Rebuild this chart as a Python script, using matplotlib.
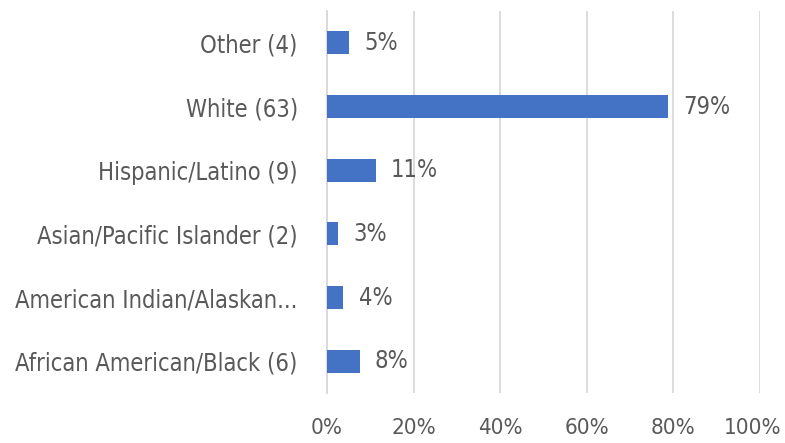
import matplotlib.pyplot as plt
import matplotlib.transforms as mtransforms
from matplotlib import font_manager

# Race / ethnicity breakdown (count in label, share as fraction)
categories = ['African American/Black (6)', 'American Indian/Alaskan...',
              'Asian/Pacific Islander (2)', 'Hispanic/Latino (9)',
              'White (63)', 'Other (4)']
shares = [0.075, 0.0375, 0.025, 0.1125, 0.7875, 0.05]
share_labels = ['8%', '4%', '3%', '11%', '79%', '5%']
xticks = [0, 0.2, 0.4, 0.6, 0.8, 1.0]
xtick_labels = ['0%', '20%', '40%', '60%', '80%', '100%']

names = {f.name for f in font_manager.fontManager.ttflist}
if 'Liberation Sans Narrow' in names:
    plt.rcParams['font.family'] = ['Liberation Sans Narrow', 'DejaVu Sans']
else:
    plt.rcParams['font.family'] = ['DejaVu Sans']
    plt.rcParams['font.stretch'] = 'condensed'

text_col = '#595959'
grid_col = '#D9D9D9'
bar_col = '#4472C4'
fs = 17

fig = plt.figure(figsize=(7.85, 4.43), dpi=100)
ax = fig.add_axes([0.4166, 0.1129, 0.5516, 0.862])

y = range(len(categories))
ax.barh(y, shares, height=0.36, color=bar_col, zorder=3)

for i, (v, lab) in enumerate(zip(shares, share_labels)):
    ax.annotate(lab, (v, i), xytext=(11, 0), textcoords='offset points',
                va='center', ha='left', fontsize=fs, color=text_col)

ax.set_xlim(0, 1.0)
ax.set_ylim(-0.5, len(categories) - 0.5)
ax.set_xticks(xticks)
ax.set_xticklabels(xtick_labels)
ax.set_yticks(list(y))
ax.set_yticklabels(categories)
ax.tick_params(axis='both', length=0, labelsize=fs, labelcolor=text_col)
ax.tick_params(axis='x', pad=18, labelsize=16)
ax.tick_params(axis='y', pad=21)

# nudge the last tick label in so it stays inside the canvas
last = ax.get_xticklabels()[-1]
last.set_transform(last.get_transform() +
                   mtransforms.ScaledTranslation(-5 / 72, 0, fig.dpi_scale_trans))

ax.grid(axis='x', color=grid_col, linewidth=1.3, zorder=0)
for s in ['top', 'right', 'bottom']:
    ax.spines[s].set_visible(False)
ax.spines['left'].set_color(grid_col)
ax.spines['left'].set_linewidth(1.3)

fig.savefig('out.png', dpi=100)
